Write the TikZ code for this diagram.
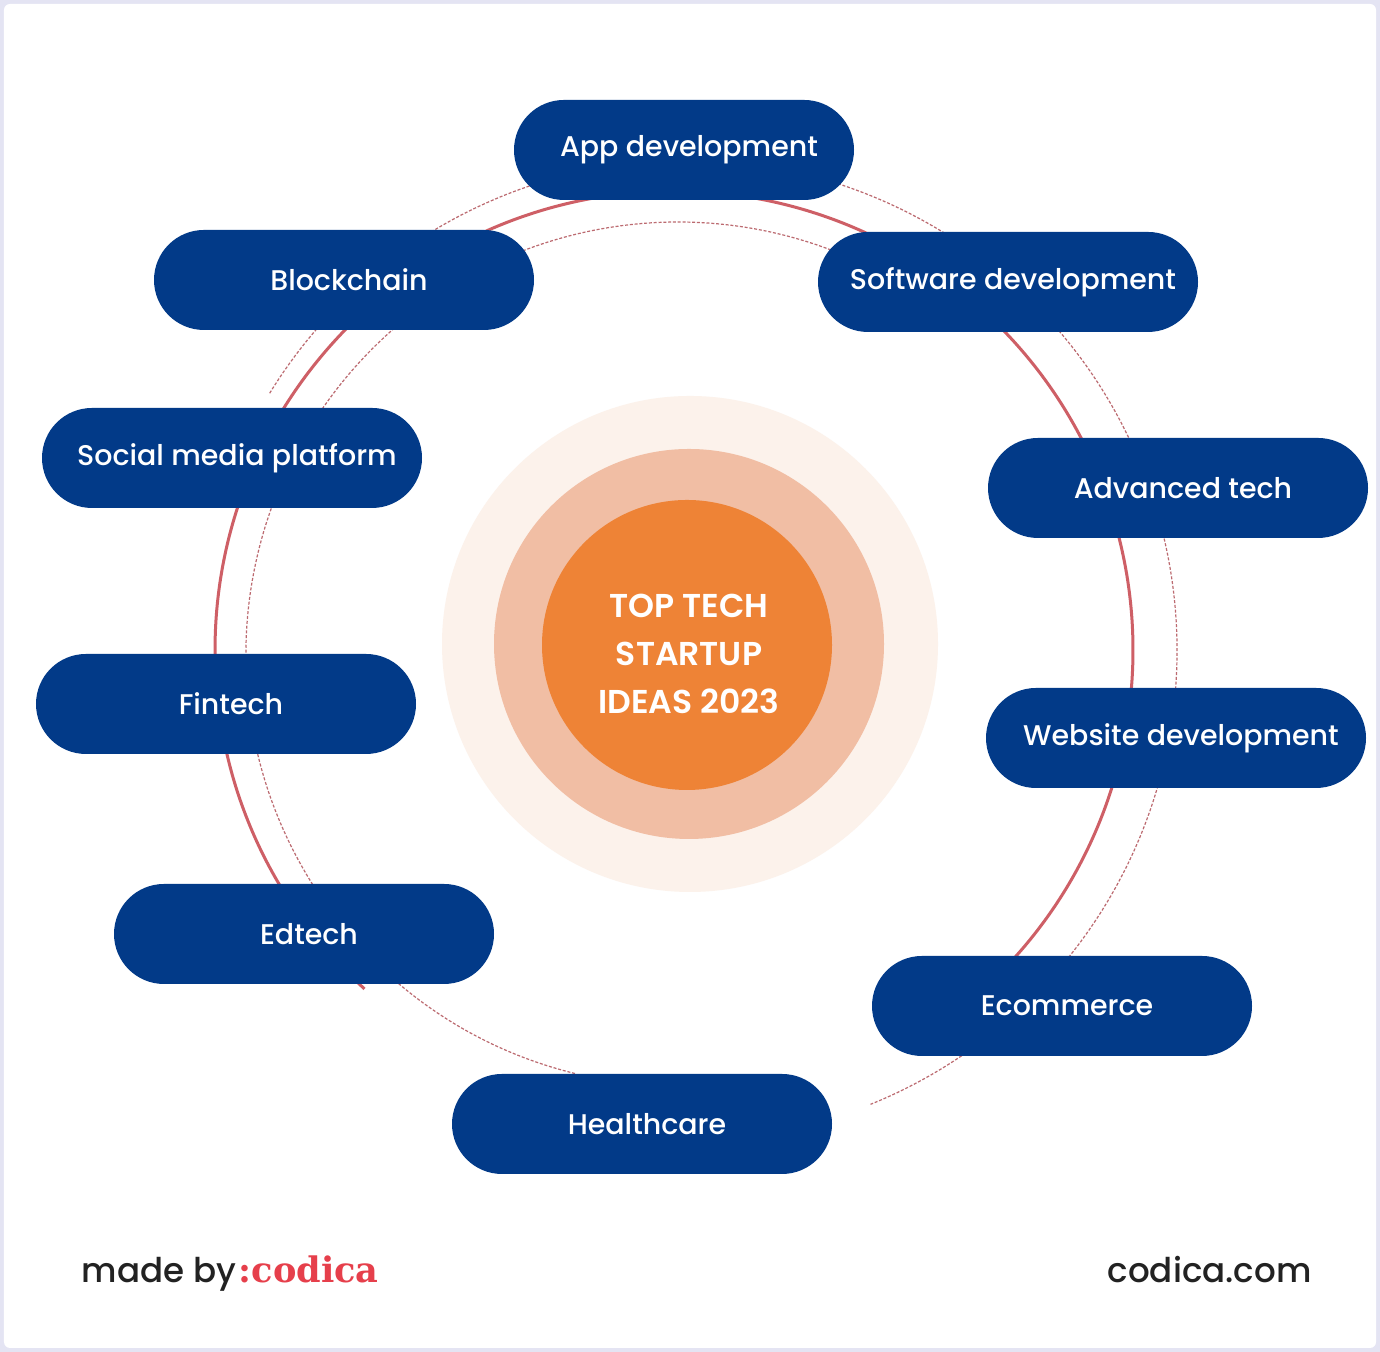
\documentclass[tikz,border=0pt]{standalone}
\usepackage{fontspec}
\setmainfont{Poppins}[UprightFont=* Medium, BoldFont=* SemiBold]
\newfontfamily\logofont{DejaVu Serif}[UprightFont=* Bold]
\usetikzlibrary{calc}
\definecolor{framelav}{HTML}{E4E4F3}
\definecolor{pillblue}{HTML}{023A88}
\definecolor{ringred}{HTML}{CE5F66}
\definecolor{ringdash}{HTML}{BC6A70}
\definecolor{sunin}{HTML}{EE8336}
\definecolor{sunmid}{HTML}{F1BEA4}
\definecolor{sunout}{HTML}{FCF2EB}
\definecolor{logored}{HTML}{E63F4B}
\definecolor{inkdark}{HTML}{222222}
\tikzset{
    pill/.style={fill=pillblue,text=white,rounded corners=0.5cm,minimum width=3.8cm,minimum height=1cm,inner sep=0pt,font=\fontsize{8.1}{10}\selectfont,execute at begin node=\hspace*{0.1cm}},
    solidring/.style={draw=ringred,line width=0.03cm},
    dashring/.style={draw=ringdash,line width=0.012cm,dash pattern=on 0.03cm off 0.018cm},
    footer/.style={text=inkdark,inner sep=0pt,anchor=base west,font=\fontsize{9.7}{12}\selectfont}
}
\begin{document}
\begin{tikzpicture}
    \useasboundingbox (0,0) rectangle (13.8,13.52);
    \fill[framelav] (0,0) rectangle (13.8,13.52);
    \fill[white,rounded corners=0.06cm] (0.04,0.04) rectangle (13.76,13.48);

    \node[circle,fill=sunout,minimum size=4.96cm,inner sep=0pt] (sunouter) at (6.90,7.08) {};
    \node[circle,fill=sunmid,minimum size=3.90cm,inner sep=0pt] (sunmiddle) at (6.89,7.08) {};
    \node[circle,fill=sunin,minimum size=2.90cm,inner sep=0pt,text=white,align=center,font=\fontsize{9.4}{13.66}\bfseries] (suninner) at (6.87,7.07) {};
    \node[text=white,align=center,inner sep=0pt,font=\fontsize{9.4}{13.66}\selectfont\bfseries] (suntext) at (6.89,6.98) {TOP TECH\\STARTUP\\IDEAS 2023};

    \coordinate (redhub) at (6.74,7.02);
    \coordinate (outerhub) at (6.87,7.02);
    \coordinate (innerhub) at (6.78,6.98);
    \coordinate (redstart) at ($(redhub)+(227.6:4.59)$);
    \coordinate (outerstart) at ($(outerhub)+(148.4:4.90)$);
    \coordinate (innerstart) at ($(innerhub)+(256.2:4.32)$);
    \draw[solidring] (redstart) arc[start angle=227.6,end angle=-43,radius=4.59];
    \draw[dashring] (outerstart) arc[start angle=148.4,end angle=-68,radius=4.90];
    \draw[dashring] (innerstart) arc[start angle=256.2,end angle=66,radius=4.32];

    \node[pill,minimum width=3.4cm] (app) at (6.84,12.02) {App development};
    \node[pill] (blockchain) at (3.44,10.72) {Blockchain};
    \node[pill] (software) at (10.08,10.70) {Software development};
    \node[pill] (social) at (2.32,8.94) {Social media platform};
    \node[pill] (advanced) at (11.78,8.64) {Advanced tech};
    \node[pill] (fintech) at (2.26,6.48) {Fintech};
    \node[pill] (website) at (11.76,6.14) {Website development};
    \node[pill] (edtech) at (3.04,4.18) {Edtech};
    \node[pill] (ecommerce) at (10.62,3.46) {Ecommerce};
    \node[pill] (healthcare) at (6.42,2.28) {Healthcare};

    \node[footer] (madeby) at (0.81,0.69) {made by};
    \node[inner sep=0pt,anchor=base west,text=logored,font=\logofont\fontsize{10}{12}\selectfont] (logo) at (2.38,0.69) {:codica};
    \node[footer] (site) at (11.07,0.69) {codica.com};
\end{tikzpicture}
\end{document}
